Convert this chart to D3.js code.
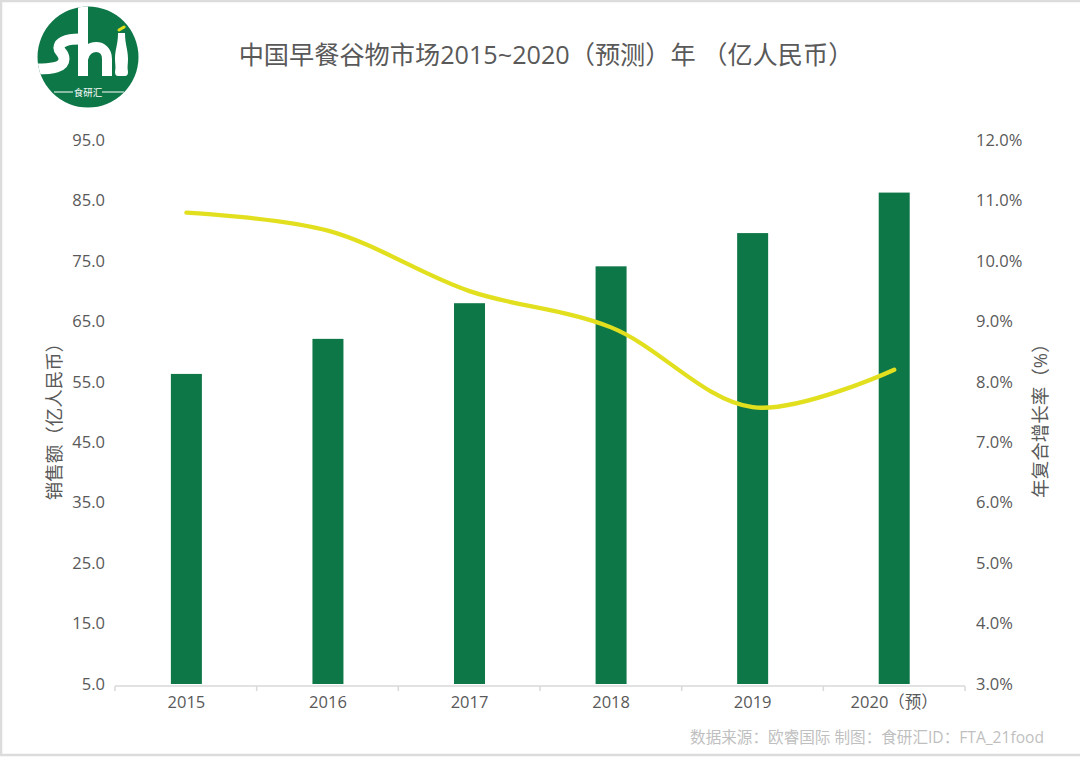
<!DOCTYPE html>
<html><head><meta charset="utf-8">
<script src="https://cdn.jsdelivr.net/npm/d3@7"></script>
<style>
html,body{margin:0;padding:0;background:#fff;overflow:hidden}
svg{display:block}
text{font-family:"Open Sans","Noto Sans CJK SC",sans-serif}
</style></head><body>
<script>
const categories=["2015","2016","2017","2018","2019","2020（预）"];
const sales=[56.3,62.1,68.0,74.1,79.6,86.3];
const growth=[10.8,10.5,9.5,8.9,7.58,8.2];
const leftTicks=[5,15,25,35,45,55,65,75,85,95];
const rightTicks=[3,4,5,6,7,8,9,10,11,12];
const title="中国早餐谷物市场2015~2020（预测）年 （亿人民币）";
const leftTitle="销售额（亿人民币）";
const rightTitle="年复合增长率（%）";
const source="数据来源：欧睿国际 制图：食研汇ID：FTA_21food";

const svg=d3.select("body").append("svg").attr("width",1080).attr("height",767);
svg.append("rect").attr("width",1080).attr("height",767).attr("fill","#fff");
// frame
svg.append("path").attr("d","M1,0V755H1080M0,1H1080").attr("fill","none").attr("stroke","#dcdcdc").attr("stroke-width",2.5);

const x=d3.scaleBand().domain(categories).range([115.6,965]);
const yL=d3.scaleLinear().domain([5,95]).range([684,140]);
const yR=d3.scaleLinear().domain([3,12]).range([684,140]);

const green="#0e7748",lime="#e2e01e",txt="#595959";

// bars
svg.selectAll("rect.bar").data(categories).join("rect").attr("class","bar")
 .attr("x",d=>x(d)+x.bandwidth()/2-15.5).attr("width",31)
 .attr("y",(d,i)=>yL(sales[i])).attr("height",(d,i)=>684-yL(sales[i])).attr("fill",green);

// x axis
const ax=svg.append("g").attr("transform","translate(0,686)")
 .call(d3.axisBottom(x).tickSize(0).tickPadding(10));
ax.select(".domain").remove();
ax.selectAll("text").attr("font-size",16.5).attr("fill",txt);
svg.append("path").attr("fill","none").attr("stroke","#d9d9d9").attr("stroke-width",1.5)
 .attr("d",d3.range(categories.length+1).map(i=>{const px=115+i*850/categories.length;return `M${px},691V686`}).join("")+"M115,686H965");

// left axis
const aL=svg.append("g").attr("transform","translate(105,0)")
 .call(d3.axisLeft(yL).tickValues(leftTicks).tickFormat(d3.format(".1f")).tickSize(0).tickPadding(0));
aL.select(".domain").remove();
aL.selectAll("text").attr("font-size",16.5).attr("fill",txt);

// right axis
const aR=svg.append("g").attr("transform","translate(976,0)")
 .call(d3.axisRight(yR).tickValues(rightTicks).tickFormat(d=>d.toFixed(1)+"%").tickSize(0).tickPadding(0));
aR.select(".domain").remove();
aR.selectAll("text").attr("font-size",16.5).attr("fill",txt);

// line
const line=d3.line().x((d,i)=>x(categories[i])+x.bandwidth()/2).y(d=>yR(d)).curve(d3.curveCatmullRom.alpha(0.5));
svg.append("path").datum(growth).attr("d",line).attr("fill","none").attr("stroke",lime)
 .attr("stroke-width",4.3).attr("stroke-linecap","round");

// titles
svg.append("text").attr("x",546).attr("y",64).attr("text-anchor","middle").attr("font-size",25.2).attr("fill",txt).text(title);
svg.append("text").attr("transform","translate(61,417) rotate(-90)").attr("text-anchor","middle").attr("font-size",18.5).attr("fill",txt).text(leftTitle);
svg.append("text").attr("transform","translate(1047,416) rotate(-90)").attr("text-anchor","middle").attr("font-size",18.5).attr("fill",txt).text(rightTitle);
svg.append("text").attr("x",1044).attr("y",743).attr("text-anchor","end").attr("font-size",15.6).attr("fill","#bfbfbf").text(source);

// logo
const logo=svg.append("g").attr("transform","translate(88,57)");
logo.append("circle").attr("r",50.5).attr("fill",green);
const clip=svg.append("clipPath").attr("id","lc");clip.append("circle").attr("r",50.5);
const inner=logo.append("g").attr("clip-path","url(#lc)");
inner.append("path").attr("d","M-52,12C-35,12 -24,10 -24,2C-24,-5 -30,-5 -29,-10C-28,-16 -20,-18 -8,-18").attr("fill","none").attr("stroke","#fff").attr("stroke-width",11);
inner.append("rect").attr("x",-10).attr("y",-52).attr("width",10).attr("height",71).attr("fill","#fff");
inner.append("path").attr("d","M-5,2C-2,-14 19,-14 19,2V19").attr("fill","none").attr("stroke","#fff").attr("stroke-width",10);
inner.append("path").attr("d","M30,-24H37C37,-12 40,-8 40,2C40,7 39,10 40,15Q40,19 37,19H30Q27,19 27,15C28,10 27,7 27,2C27,-8 30,-12 30,-24Z").attr("fill","#fff");
inner.append("path").attr("d","M31,-27L36,-30").attr("stroke",lime).attr("stroke-width",3).attr("stroke-linecap","round");
inner.append("path").attr("d","M-34,35H-15M14,35H36").attr("stroke","#fff").attr("stroke-width",1.2);
inner.append("text").attr("x",0).attr("y",38.5).attr("text-anchor","middle").attr("font-size",9.5).attr("fill","#fff").text("食研汇");
</script>
</body></html>
